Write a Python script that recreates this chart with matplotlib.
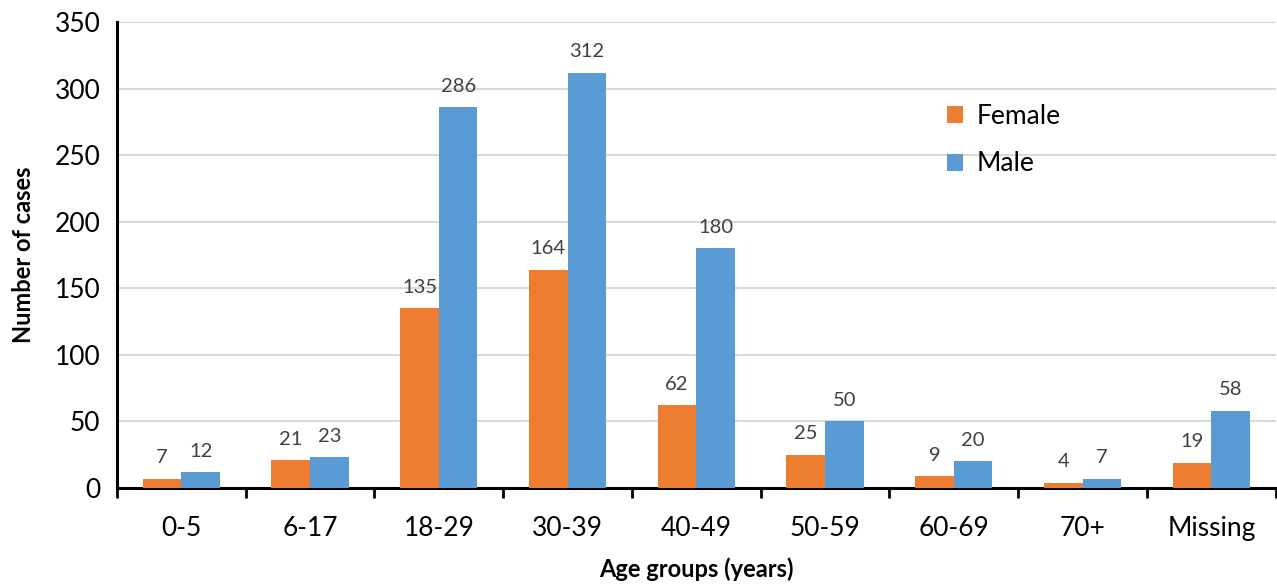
import matplotlib
matplotlib.use("Agg")
import matplotlib.pyplot as plt
import numpy as np

categories = ["0-5", "6-17", "18-29", "30-39", "40-49", "50-59", "60-69", "70+", "Missing"]
female = [7, 21, 135, 164, 62, 25, 9, 4, 19]
male = [12, 23, 286, 312, 180, 50, 20, 7, 58]

plt.rcParams['font.family'] = ['Lato', 'DejaVu Sans']

fig = plt.figure(figsize=(12.77, 5.86), dpi=100)
ax = fig.add_axes([117/1277, 1-488/586, 1-117/1277-0.001, (488-22)/586])

x = np.arange(len(categories))
w = 0.3
c_f = "#ED7D31"
c_m = "#5B9BD5"
bf = ax.bar(x - w/2, female, w, color=c_f, label="Female", zorder=3)
bm = ax.bar(x + w/2, male, w, color=c_m, label="Male", zorder=3)

for rects, vals in ((bf, female), (bm, male)):
    for r, v in zip(rects, vals):
        ax.annotate(str(v), (r.get_x() + r.get_width()/2, v), xytext=(0, 9),
                    textcoords="offset points", ha="center", va="bottom",
                    fontsize=14.5, color="#404040")

ax.set_xlim(-0.5, len(categories) - 0.5)
ax.set_ylim(0, 350)
ax.set_yticks(range(0, 351, 50))
ax.tick_params(axis='y', length=0, labelsize=19, pad=12)
ax.set_xticks(x)
ax.set_xticklabels(categories)
ax.tick_params(axis='x', length=0, labelsize=19, pad=20)
ax.set_xticks(np.arange(-0.5, len(categories) + 0.5, 1), minor=True)
ax.tick_params(axis='x', which='minor', length=7, width=2, direction='out')
ax.grid(axis='y', color="#d9d9d9", linewidth=1.5, zorder=0)
for s in ("top", "right"):
    ax.spines[s].set_visible(False)
for s in ("left", "bottom"):
    ax.spines[s].set_linewidth(2.2)
    ax.spines[s].set_color("black")

ax.set_xlabel("Age groups (years)", fontsize=17, fontweight="bold", labelpad=12)
ax.set_ylabel("Number of cases", fontsize=17, fontweight="bold", labelpad=14)

ax.legend(loc="upper left", bbox_to_anchor=(0.696, 0.875), frameon=False, fontsize=19,
          handlelength=0.6, handleheight=0.6, handletextpad=0.5, labelspacing=0.85)

fig.savefig("out.png", dpi=100)
